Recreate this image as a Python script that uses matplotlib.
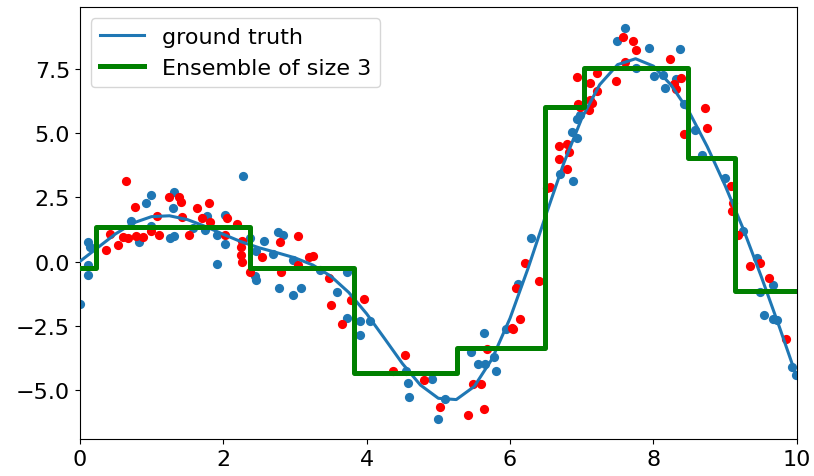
import matplotlib
matplotlib.use("Agg")
import matplotlib.pyplot as plt

# ground truth curve
truth_x = [0.0, 0.25, 0.5, 0.75, 1.0, 1.25, 1.5, 1.75, 2.0, 2.25, 2.5, 2.75, 3.0, 3.25,
           3.5, 3.75, 4.0, 4.25, 4.5, 4.75, 5.0, 5.25, 5.5, 5.75, 6.0, 6.25, 6.5, 6.75,
           7.0, 7.25, 7.5, 7.75, 8.0, 8.25, 8.5, 8.75, 9.0, 9.25, 9.5, 9.75, 10.0]
truth_y = [0.0, 0.541, 1.081, 1.509, 1.751, 1.785, 1.637, 1.371, 1.062, 0.773, 0.537,
           0.344, 0.144, -0.137, -0.571, -1.205, -2.038, -3.005, -3.987, -4.822, -5.339,
           -5.389, -4.880, -3.798, -2.213, -0.274, 1.818, 3.841, 5.590, 6.903, 7.685,
           7.915, 7.627, 6.873, 5.826, 4.483, 2.958, 1.284, -0.565, -2.510, -4.527]

# ensemble step prediction
step_edges = [0.0, 0.23, 2.37, 3.83, 5.26, 6.49, 7.03, 8.48, 9.14, 10.0]
step_vals = [-0.25, 1.35, -0.25, -4.35, -3.38, 6.05, 7.57, 4.05, -1.15]

# blue sample points
blue_x = [0.00, 0.11, 0.14, 0.11, 0.11, 0.82, 0.72, 0.93, 0.99, 1.00, 1.26, 1.32, 1.31, 1.30,
          1.58, 1.77, 1.74, 2.03, 1.92, 2.02, 1.91, 2.27, 2.38, 2.46, 2.57, 2.44, 2.46, 2.77,
          2.83, 2.78, 2.70, 2.97, 3.35, 3.72, 2.97, 3.09, 3.59, 3.73, 3.91, 4.05, 3.91, 4.55,
          4.58, 4.91, 4.59, 5.09, 5.00, 5.63, 5.46, 5.56, 5.65, 5.77, 5.81, 5.94, 6.11, 6.29,
          6.69, 6.88, 6.86, 6.93, 6.94, 6.97, 7.60, 7.49, 7.94, 8.37, 7.76, 8.01, 8.13, 8.16,
          8.32, 8.42, 8.58, 8.68, 9.00, 9.25, 9.44, 9.66, 9.48, 9.54, 9.66, 9.72, 9.93, 9.99]
blue_y = [-1.64, 0.78, 0.55, -0.12, -0.51, 0.78, 1.60, 2.30, 2.58, 1.37, 0.90, 0.98, 2.70, 2.07,
          1.29, 1.76, 1.22, 1.80, 1.05, 0.70, -0.08, 3.35, 0.90, 0.40, 0.79, -0.55, -0.73, 1.16,
          1.03, -1.05, 0.31, 0.05, -0.34, -0.40, -1.29, -1.05, -1.18, -2.20, -2.33, -2.33, -2.88,
          -4.29, -4.73, -4.60, -5.29, -5.35, -6.16, -2.81, -3.55, -4.02, -4.02, -3.72, -4.29,
          -2.62, -0.86, 0.93, 3.40, 3.14, 5.04, 4.83, 5.56, 5.71, 9.10, 8.61, 8.35, 8.29, 7.57,
          7.25, 7.28, 6.79, 7.12, 6.13, 5.13, 4.15, 3.27, 1.18, 0.12, -0.90, -1.18, -2.07, -2.25,
          -2.29, -4.11, -4.44]

# red sample points
red_x = [0.36, 0.42, 0.53, 0.65, 0.60, 0.67, 0.79, 0.88, 0.77, 1.07, 0.99, 1.10, 1.24, 1.38,
         1.41, 1.42, 1.64, 1.80, 1.70, 1.81, 1.52, 2.05, 2.19, 2.03, 2.26, 2.25, 2.25, 2.26,
         2.54, 2.37, 2.79, 2.80, 3.05, 3.04, 3.20, 3.25, 3.48, 3.78, 3.96, 3.50, 3.65, 4.53,
         4.37, 4.80, 5.02, 6.04, 5.68, 5.48, 5.60, 5.42, 5.63, 6.21, 6.08, 6.41, 6.14, 6.03,
         6.95, 7.14, 7.10, 6.68, 6.80, 6.82, 6.68, 6.80, 6.51, 6.56, 7.57, 7.71, 7.75, 8.23,
         6.94, 7.21, 7.11, 7.48, 7.60, 8.29, 8.32, 7.21, 7.12, 6.97, 8.39, 8.72, 8.74, 8.42,
         9.08, 9.11, 9.10, 9.18, 9.34, 9.49, 9.61, 9.85]
red_y = [0.44, 1.09, 0.63, 3.15, 0.94, 0.90, 0.98, 0.94, 2.11, 1.76, 1.18, 1.05, 2.50, 2.50,
         2.34, 1.72, 2.07, 2.30, 1.68, 1.56, 1.02, 1.68, 1.45, 1.02, 0.79, 0.55, 0.27, 0.00,
         0.16, -0.39, 0.78, -0.39, 1.00, -0.14, 0.18, 0.22, -0.66, -1.51, -1.47, -1.71, -2.42,
         -3.66, -4.29, -4.64, -5.66, -2.62, -3.40, -4.77, -4.80, -6.00, -5.74, -0.04, -1.03,
         -0.77, -2.25, -2.59, 6.13, 6.17, 5.91, 4.52, 4.57, 4.26, 4.00, 3.61, 2.85, 2.92, 8.78,
         8.61, 8.25, 7.90, 7.21, 7.34, 6.95, 7.04, 7.77, 6.91, 6.73, 6.65, 6.30, 6.04, 7.15,
         5.98, 5.22, 4.96, 2.96, 2.27, 1.96, 1.05, -0.17, -0.04, -0.64, -3.04]

plt.rcParams['font.size'] = 16

fig = plt.figure(figsize=(8.14, 4.77), dpi=100)
ax = fig.add_axes([0.098, 0.078, 0.881, 0.905])

ax.scatter(blue_x, blue_y, s=44, color='#1f77b4', zorder=2, linewidths=0)
ax.scatter(red_x, red_y, s=44, color='red', zorder=2, linewidths=0)
ax.plot(truth_x, truth_y, color='#1f77b4', lw=2.2, label='ground truth', zorder=3)
ax.step(step_edges, step_vals + [step_vals[-1]], where='post', color='green', lw=3.6,
        label='Ensemble of size 3', zorder=4)

ax.set_xlim(0, 10)
ax.set_ylim(-6.92, 9.93)
ax.set_xticks([0, 2, 4, 6, 8, 10])
ax.set_yticks([-5.0, -2.5, 0.0, 2.5, 5.0, 7.5])
ax.legend(loc='upper left')

fig.savefig('out.png', dpi=100)
